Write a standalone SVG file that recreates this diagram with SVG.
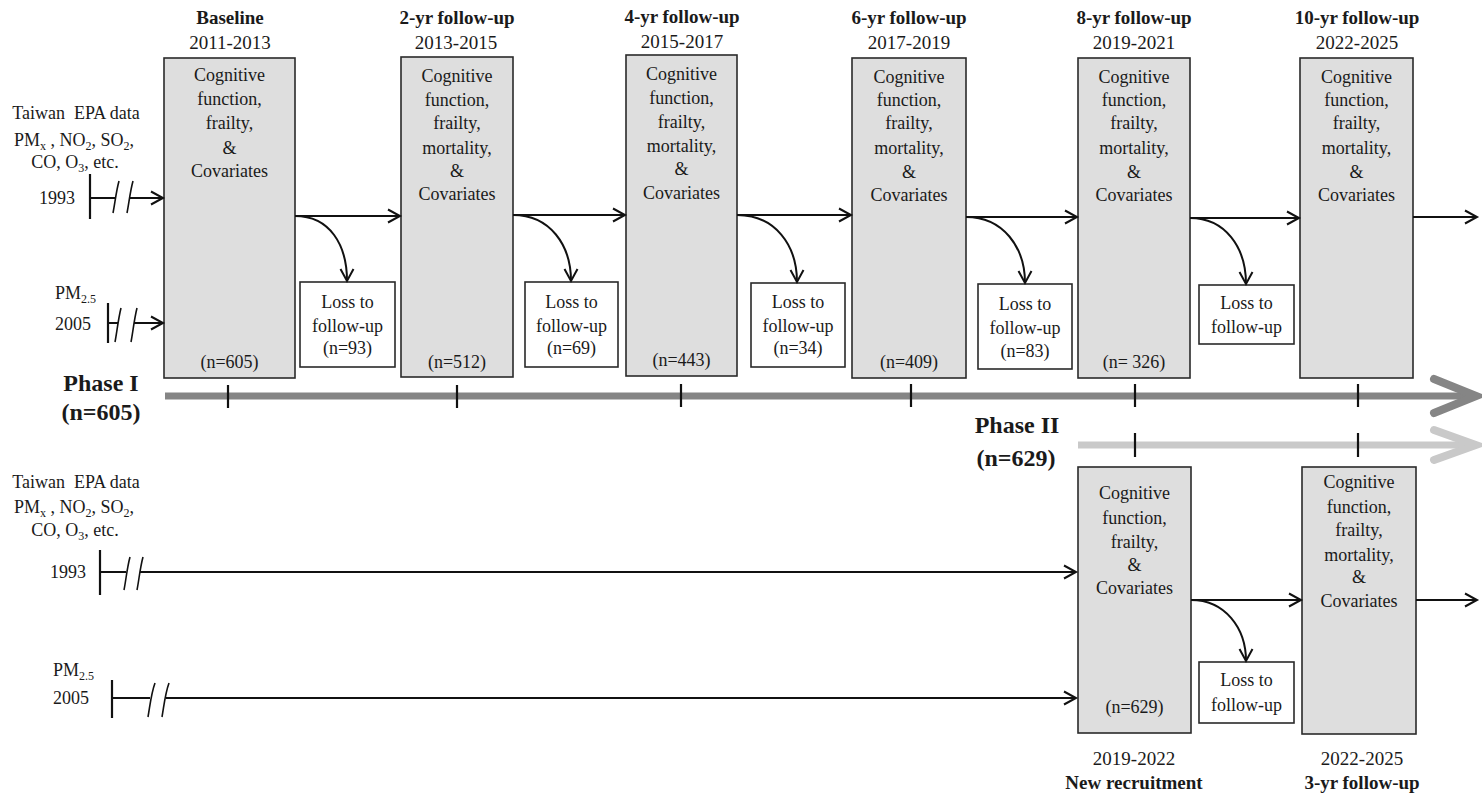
<svg xmlns="http://www.w3.org/2000/svg" width="1482" height="798" viewBox="0 0 1482 798">
<style>
text{font-family:"Liberation Serif","Times New Roman",serif;fill:#1a1a1a}
.t{font-size:18px;text-anchor:middle}
.h{font-size:19px;text-anchor:middle;font-weight:bold}
.y{font-size:19px;text-anchor:middle}
.ph{font-size:24px;text-anchor:middle;font-weight:bold}
.box{fill:#dedede;stroke:#2a2a2a;stroke-width:1.6}
.loss{fill:#fff;stroke:#2a2a2a;stroke-width:1.6}
.ln{fill:none;stroke:#111;stroke-width:2}
.arr{fill:none;stroke:#111;stroke-width:2;marker-end:url(#ah)}
.tick{stroke:#111;stroke-width:2.2}
.brk{fill:none;stroke:#111;stroke-width:1.6}
.sub{font-size:12px}
</style>
<defs>
<marker id="ah" markerUnits="userSpaceOnUse" markerWidth="18" markerHeight="18" refX="14" refY="9" orient="auto">
<path d="M2,2.5 L14,9 L2,15.5" fill="none" stroke="#111" stroke-width="2"/>
</marker>
</defs>

<!-- left source labels, top -->
<g id="src-top">
<text class="t" x="76" y="119" xml:space="preserve">Taiwan  EPA data</text>
<text class="t" x="74" y="146">PM<tspan class="sub" dy="4">x</tspan><tspan dy="-4"> , NO</tspan><tspan class="sub" dy="4">2</tspan><tspan dy="-4">, SO</tspan><tspan class="sub" dy="4">2</tspan><tspan dy="-4">,</tspan></text>
<text class="t" x="75" y="168">CO, O<tspan class="sub" dy="4">3</tspan><tspan dy="-4">, etc.</tspan></text>
<text class="t" x="57" y="204">1993</text>
<text class="t" x="55" y="299" style="text-anchor:start">PM<tspan class="sub" dy="4">2.5</tspan></text>
<text class="t" x="55" y="330" style="text-anchor:start">2005</text>
</g>

<!-- left source labels, bottom -->
<g id="src-bottom">
<text class="t" x="76" y="488" xml:space="preserve">Taiwan  EPA data</text>
<text class="t" x="74" y="513">PM<tspan class="sub" dy="4">x</tspan><tspan dy="-4"> , NO</tspan><tspan class="sub" dy="4">2</tspan><tspan dy="-4">, SO</tspan><tspan class="sub" dy="4">2</tspan><tspan dy="-4">,</tspan></text>
<text class="t" x="75" y="536">CO, O<tspan class="sub" dy="4">3</tspan><tspan dy="-4">, etc.</tspan></text>
<text class="t" x="68" y="578">1993</text>
<text class="t" x="53" y="676" style="text-anchor:start">PM<tspan class="sub" dy="4">2.5</tspan></text>
<text class="t" x="53" y="704" style="text-anchor:start">2005</text>
</g>

<!-- headers -->
<g id="headers">
<text class="h" x="230" y="24">Baseline</text><text class="y" x="230" y="49">2011-2013</text>
<text class="h" x="457" y="24">2-yr follow-up</text><text class="y" x="456" y="49">2013-2015</text>
<text class="h" x="682" y="23">4-yr follow-up</text><text class="y" x="682" y="48">2015-2017</text>
<text class="h" x="909" y="24">6-yr follow-up</text><text class="y" x="909" y="49">2017-2019</text>
<text class="h" x="1134" y="24">8-yr follow-up</text><text class="y" x="1134" y="49">2019-2021</text>
<text class="h" x="1357" y="24">10-yr follow-up</text><text class="y" x="1357" y="49">2022-2025</text>
</g>

<!-- top row boxes -->
<g id="box1">
<rect class="box" x="164" y="58" width="131" height="320"/>
<text class="t" x="229.5" y="81">Cognitive</text>
<text class="t" x="229.5" y="105">function,</text>
<text class="t" x="229.5" y="129">frailty,</text>
<text class="t" x="229.5" y="154">&amp;</text>
<text class="t" x="229.5" y="177">Covariates</text>
<text class="t" x="229.5" y="368">(n=605)</text>
</g>
<g id="box2">
<rect class="box" x="401" y="57" width="112" height="320"/>
<text class="t" x="457" y="82">Cognitive</text>
<text class="t" x="457" y="106">function,</text>
<text class="t" x="457" y="129">frailty,</text>
<text class="t" x="457" y="154">mortality,</text>
<text class="t" x="457" y="177">&amp;</text>
<text class="t" x="457" y="200">Covariates</text>
<text class="t" x="457" y="368">(n=512)</text>
</g>
<g id="box3">
<rect class="box" x="626" y="55" width="111" height="321"/>
<text class="t" x="681.5" y="80">Cognitive</text>
<text class="t" x="681.5" y="104">function,</text>
<text class="t" x="681.5" y="128">frailty,</text>
<text class="t" x="681.5" y="152">mortality,</text>
<text class="t" x="681.5" y="175">&amp;</text>
<text class="t" x="681.5" y="199">Covariates</text>
<text class="t" x="681.5" y="366">(n=443)</text>
</g>
<g id="box4">
<rect class="box" x="852" y="58" width="114" height="320"/>
<text class="t" x="909" y="83">Cognitive</text>
<text class="t" x="909" y="106">function,</text>
<text class="t" x="909" y="129">frailty,</text>
<text class="t" x="909" y="154">mortality,</text>
<text class="t" x="909" y="178">&amp;</text>
<text class="t" x="909" y="201">Covariates</text>
<text class="t" x="909" y="368">(n=409)</text>
</g>
<g id="box5">
<rect class="box" x="1078" y="58" width="112" height="320"/>
<text class="t" x="1134" y="83">Cognitive</text>
<text class="t" x="1134" y="106">function,</text>
<text class="t" x="1134" y="129">frailty,</text>
<text class="t" x="1134" y="154">mortality,</text>
<text class="t" x="1134" y="178">&amp;</text>
<text class="t" x="1134" y="201">Covariates</text>
<text class="t" x="1134" y="368">(n= 326)</text>
</g>
<g id="box6">
<rect class="box" x="1300" y="58" width="113" height="320"/>
<text class="t" x="1356.5" y="83">Cognitive</text>
<text class="t" x="1356.5" y="106">function,</text>
<text class="t" x="1356.5" y="129">frailty,</text>
<text class="t" x="1356.5" y="154">mortality,</text>
<text class="t" x="1356.5" y="178">&amp;</text>
<text class="t" x="1356.5" y="201">Covariates</text>
</g>

<!-- loss boxes top -->
<g id="loss1">
<rect class="loss" x="300" y="282" width="95" height="85"/>
<text class="t" x="347.5" y="308">Loss to</text>
<text class="t" x="347.5" y="332">follow-up</text>
<text class="t" x="347.5" y="354">(n=93)</text>
</g>
<g id="loss2">
<rect class="loss" x="525" y="282" width="93" height="85"/>
<text class="t" x="571.5" y="308">Loss to</text>
<text class="t" x="571.5" y="332">follow-up</text>
<text class="t" x="571.5" y="354">(n=69)</text>
</g>
<g id="loss3">
<rect class="loss" x="751" y="283" width="94" height="84"/>
<text class="t" x="798" y="308">Loss to</text>
<text class="t" x="798" y="332">follow-up</text>
<text class="t" x="798" y="354">(n=34)</text>
</g>
<g id="loss4">
<rect class="loss" x="978" y="284" width="94" height="85"/>
<text class="t" x="1025" y="310">Loss to</text>
<text class="t" x="1025" y="334">follow-up</text>
<text class="t" x="1025" y="357">(n=83)</text>
</g>
<g id="loss5">
<rect class="loss" x="1199" y="285" width="95" height="59"/>
<text class="t" x="1246.5" y="309">Loss to</text>
<text class="t" x="1246.5" y="333">follow-up</text>
</g>

<!-- Phase labels -->
<g id="phase1">
<text class="ph" x="101" y="391">Phase I</text>
<text class="ph" x="101" y="420">(n=605)</text>
</g>
<g id="phase2">
<text class="ph" x="1017" y="433">Phase II</text>
<text class="ph" x="1016" y="466">(n=629)</text>
</g>

<!-- bottom row boxes -->
<g id="boxL1">
<rect class="box" x="1078" y="467" width="113" height="266"/>
<text class="t" x="1134.5" y="499">Cognitive</text>
<text class="t" x="1134.5" y="524">function,</text>
<text class="t" x="1134.5" y="548">frailty,</text>
<text class="t" x="1134.5" y="571">&amp;</text>
<text class="t" x="1134.5" y="594">Covariates</text>
<text class="t" x="1134.5" y="713">(n=629)</text>
</g>
<g id="boxL2">
<rect class="box" x="1302" y="467" width="114" height="267"/>
<text class="t" x="1359" y="488">Cognitive</text>
<text class="t" x="1359" y="513">function,</text>
<text class="t" x="1359" y="536">frailty,</text>
<text class="t" x="1359" y="561">mortality,</text>
<text class="t" x="1359" y="583">&amp;</text>
<text class="t" x="1359" y="607">Covariates</text>
</g>
<g id="lossL">
<rect class="loss" x="1199" y="662" width="95" height="61"/>
<text class="t" x="1246.5" y="686">Loss to</text>
<text class="t" x="1246.5" y="711">follow-up</text>
</g>
<g id="bottom-labels">
<text class="y" x="1134" y="765">2019-2022</text>
<text class="h" x="1134" y="789">New recruitment</text>
<text class="y" x="1362" y="765">2022-2025</text>
<text class="h" x="1362" y="789">3-yr follow-up</text>
</g>

<!-- connectors -->
<g id="connectors">
<line x1="165" y1="396" x2="1470" y2="396" stroke="#858585" stroke-width="7"/>
<polyline points="1434,379 1476,396 1434,413" fill="none" stroke="#858585" stroke-width="8" stroke-linecap="round"/>
<line x1="1078" y1="445" x2="1470" y2="445" stroke="#c9c9c9" stroke-width="7"/>
<polyline points="1434,430 1476,445 1434,460" fill="none" stroke="#c9c9c9" stroke-width="8" stroke-linecap="round"/>
<line class="tick" x1="228" y1="385" x2="228" y2="408"/>
<line class="tick" x1="457" y1="385" x2="457" y2="408"/>
<line class="tick" x1="681" y1="384" x2="681" y2="407"/>
<line class="tick" x1="911" y1="384" x2="911" y2="407"/>
<line class="tick" x1="1135" y1="384" x2="1135" y2="407"/>
<line class="tick" x1="1358" y1="384" x2="1358" y2="407"/>
<line class="tick" x1="1135" y1="433" x2="1135" y2="457"/>
<line class="tick" x1="1358" y1="433" x2="1358" y2="457"/>

<line class="tick" x1="90" y1="174" x2="90" y2="219"/>
<line class="ln" x1="90" y1="198" x2="115" y2="198"/>
<path class="brk" d="M113,213 C115,203 116,192 119,181"/>
<path class="brk" d="M127,213 C129,203 130,192 133,181"/>
<path class="arr" d="M129,198 L163,198"/>
<line class="tick" x1="108" y1="303" x2="108" y2="343"/>
<line class="ln" x1="108" y1="323" x2="118" y2="323"/>
<path class="brk" d="M115,342 C117,332 118,320 121,308"/>
<path class="brk" d="M131,342 C133,332 134,320 137,308"/>
<path class="arr" d="M134,323 L163,323"/>

<line class="tick" x1="100" y1="550" x2="100" y2="595"/>
<line class="ln" x1="100" y1="572" x2="126" y2="572"/>
<path class="brk" d="M124,590 C126,580 127,568 130,557"/>
<path class="brk" d="M137,590 C139,580 140,568 143,557"/>
<path class="arr" d="M140,572 L1076,572"/>
<line class="tick" x1="112" y1="680" x2="112" y2="718"/>
<line class="ln" x1="112" y1="698" x2="150" y2="698"/>
<path class="brk" d="M148,717 C150,706 151,694 155,683"/>
<path class="brk" d="M162,717 C164,706 165,694 169,683"/>
<path class="arr" d="M166,698 L1076,698"/>

<path class="arr" d="M295,216 L400,216"/>
<path class="arr" d="M295,216 C330,216 347,245 347,281"/>
<path class="arr" d="M513,215 L625,215"/>
<path class="arr" d="M513,215 C550,215 571,245 571,281"/>
<path class="arr" d="M737,215 L851,215"/>
<path class="arr" d="M737,215 C775,215 797,245 797,282"/>
<path class="arr" d="M966,217 L1077,217"/>
<path class="arr" d="M966,217 C1003,217 1025,247 1025,283"/>
<path class="arr" d="M1190,218 L1299,218"/>
<path class="arr" d="M1190,218 C1225,218 1246,247 1246,284"/>
<path class="arr" d="M1413,217 L1477,217"/>

<path class="arr" d="M1191,600 L1301,600"/>
<path class="arr" d="M1191,600 C1225,600 1246,628 1246,661"/>
<path class="arr" d="M1416,600 L1477,600"/>
</g>
</svg>
